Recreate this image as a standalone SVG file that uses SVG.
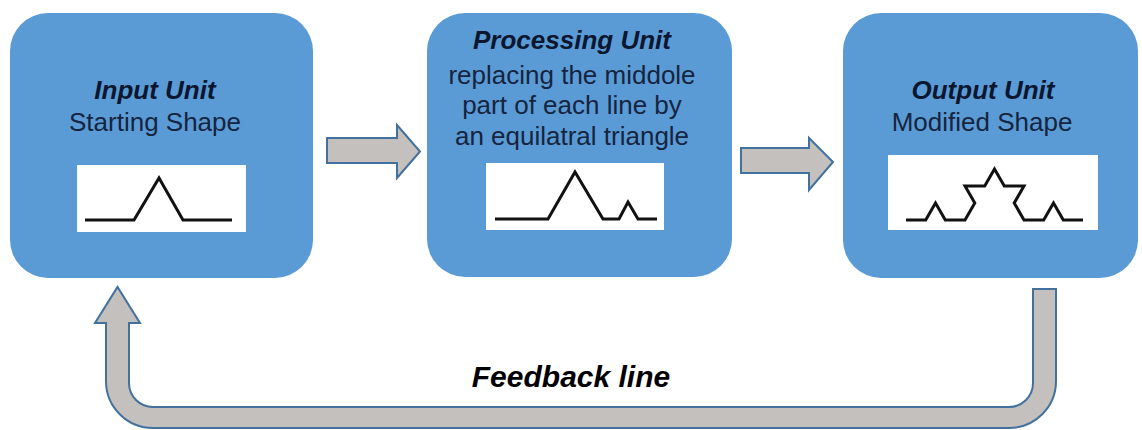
<svg xmlns="http://www.w3.org/2000/svg" width="1142" height="430" viewBox="0 0 1142 430">
<style>
.box{fill:#5B9BD5;}
.inset{fill:#FFFFFF;}
.shape{fill:none;stroke:#111111;stroke-width:3;stroke-linejoin:miter;}
.title{font-family:"Liberation Sans",Arial,sans-serif;font-size:26px;font-weight:bold;font-style:italic;fill:#0B1630;text-anchor:middle;}
.body{font-family:"Liberation Sans",Arial,sans-serif;font-size:26px;fill:#15243F;text-anchor:middle;}
.arrow{fill:#C3C0BE;stroke:#41719C;stroke-width:2;stroke-linejoin:miter;}
.label{font-family:"Liberation Sans",Arial,sans-serif;font-size:30px;font-weight:bold;font-style:italic;fill:#000000;text-anchor:middle;}
</style>
<rect width="1142" height="430" fill="#FFFFFF"/>
<g id="connectors">
<path class="arrow" d="M327 138 L397 138 L397 125 L420 151.5 L397 178 L397 163 L327 163 Z"/>
<path class="arrow" d="M741 148 L809 148 L809 138 L833 162 L809 190 L809 173 L741 173 Z"/>
<path class="arrow" d="M1033 289 L1056 289 L1056 381 A47 47 0 0 1 1009 428 L153 428 A47 47 0 0 1 106 381 L106 323 L95 323 L117.5 287 L140 323 L129 323 L129 383 A24 24 0 0 0 153 407 L1009 407 A24 24 0 0 0 1033 383 Z"/>
<text class="label" x="571" y="387">Feedback line</text>
</g>
<g id="input-unit">
<rect class="box" x="10" y="13" width="303" height="265" rx="38" ry="38"/>
<text class="title" x="155" y="99">Input Unit</text>
<text class="body" x="155" y="131">Starting Shape</text>
<rect class="inset" x="77" y="165" width="169" height="67"/>
<polyline class="shape" points="85,220 134,220 159,178 183,220 232,220"/>
</g>
<g id="processing-unit">
<rect class="box" x="427" y="13" width="305" height="264" rx="38" ry="38"/>
<text class="title" x="572" y="49">Processing Unit</text>
<text class="body" x="572" y="84">replacing the middole</text>
<text class="body" x="572" y="114">part of each line by</text>
<text class="body" x="572" y="145">an equilatral triangle</text>
<rect class="inset" x="486" y="163" width="178" height="67"/>
<polyline class="shape" points="495,219 548,219 575,172 603,219 619,219 628,202 638,219 657,219"/>
</g>
<g id="output-unit">
<rect class="box" x="843" y="13" width="295" height="265" rx="38" ry="38"/>
<text class="title" x="983" y="99">Output Unit</text>
<text class="body" x="982" y="131">Modified Shape</text>
<rect class="inset" x="888" y="155" width="210" height="75"/>
<polyline class="shape" points="906,220 925.7,220 935.5,203 945.3,220 965,220 974.8,203 965,185.9 984.7,185.9 994.5,168.9 1004.3,185.9 1024,185.9 1014.2,203 1024,220 1043.7,220 1053.5,203 1063.3,220 1083,220"/>
</g>
</svg>
